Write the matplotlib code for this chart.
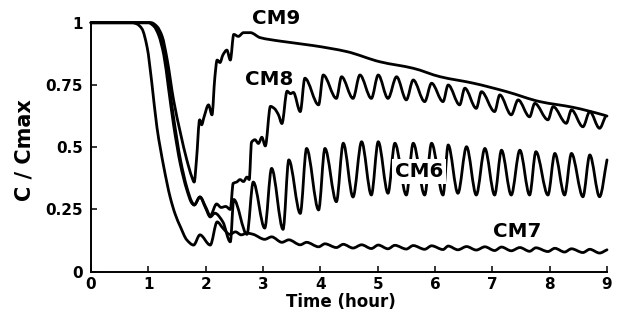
import matplotlib
matplotlib.use('Agg')
import matplotlib.pyplot as plt
from matplotlib.path import Path
from matplotlib.patches import PathPatch
import numpy as np

plt.rcParams['font.family'] = ['DejaVu Sans']
plt.rcParams['font.weight'] = 'bold'

# ---- data ----
cm9_t = [0.0, 1.05, 1.15, 1.24, 1.33, 1.44, 1.56, 1.67, 1.76, 1.80, 1.84, 1.895, 1.93, 1.97,
         2.05, 2.11, 2.16, 2.20, 2.25, 2.30, 2.37, 2.43, 2.49, 2.57, 2.66, 2.78, 2.95, 3.30,
         3.88, 4.46, 5.04, 5.62, 6.09, 6.67, 7.25, 7.83, 8.41, 8.93, 9.0]
cm9_c = [1.0, 1.0, 0.985, 0.946, 0.85, 0.69, 0.557, 0.45, 0.38, 0.36, 0.45, 0.61, 0.59, 0.62,
         0.67, 0.63, 0.78, 0.85, 0.84, 0.87, 0.89, 0.85, 0.953, 0.945, 0.96, 0.96, 0.94, 0.926,
         0.908, 0.884, 0.843, 0.817, 0.783, 0.757, 0.723, 0.683, 0.66, 0.63, 0.625]

cm8_t = [0.0, 1.02, 1.12, 1.20, 1.27, 1.35, 1.44, 1.56, 1.67, 1.76, 1.80, 1.90, 2.00, 2.08,
         2.19, 2.27, 2.35, 2.43, 2.48, 2.54, 2.60, 2.66, 2.72, 2.76, 2.80, 2.86, 2.92, 2.98,
         3.04, 3.13, 3.20, 3.27, 3.33, 3.42, 3.48, 3.53, 3.65, 3.73,
         3.97, 4.05, 4.28, 4.37, 4.57, 4.69, 4.89, 5.01, 5.18, 5.33, 5.50, 5.62, 5.82, 5.94,
         6.14, 6.23, 6.43, 6.52, 6.72, 6.81, 7.04, 7.13, 7.33, 7.45, 7.65, 7.74, 7.97, 8.06,
         8.29, 8.38, 8.58, 8.70, 8.87, 8.97]
cm8_c = [1.0, 1.0, 0.985, 0.95, 0.89, 0.77, 0.62, 0.45, 0.34, 0.28, 0.268, 0.30, 0.26, 0.225,
         0.272, 0.258, 0.262, 0.25, 0.355, 0.36, 0.37, 0.362, 0.38, 0.37, 0.52, 0.53, 0.515, 0.54,
         0.505, 0.664, 0.655, 0.63, 0.595, 0.725, 0.715, 0.72, 0.643, 0.777,
         0.67, 0.79, 0.696, 0.783, 0.696, 0.79, 0.696, 0.79, 0.696, 0.783, 0.69, 0.77, 0.683, 0.757,
         0.683, 0.75, 0.67, 0.737, 0.656, 0.723, 0.643, 0.71, 0.63, 0.69, 0.622, 0.676, 0.61, 0.663,
         0.596, 0.65, 0.582, 0.643, 0.576, 0.622]

cm6_t = [0.0, 1.00, 1.10, 1.18, 1.27, 1.35, 1.44, 1.56, 1.67, 1.76, 1.80, 1.90, 2.00, 2.08,
         2.16, 2.30, 2.43, 2.49, 2.72, 2.83, 3.03, 3.15, 3.35, 3.45, 3.65, 3.76, 3.97, 4.08,
         4.28, 4.40, 4.57, 4.72, 4.89, 5.01, 5.18, 5.30, 5.50, 5.62, 5.82, 5.94, 6.14, 6.23,
         6.40, 6.55, 6.72, 6.87, 7.04, 7.16, 7.33, 7.48, 7.65, 7.76, 7.97, 8.09, 8.26, 8.38,
         8.58, 8.70, 8.87, 9.0]
cm6_c = [1.0, 1.0, 0.985, 0.95, 0.87, 0.74, 0.59, 0.43, 0.33, 0.275, 0.268, 0.30, 0.255, 0.22,
         0.235, 0.20, 0.12, 0.29, 0.15, 0.36, 0.175, 0.415, 0.17, 0.449, 0.234, 0.495, 0.248, 0.495,
         0.281, 0.516, 0.30, 0.522, 0.308, 0.522, 0.315, 0.516, 0.308, 0.516, 0.308, 0.516, 0.308, 0.509,
         0.315, 0.502, 0.308, 0.495, 0.308, 0.488, 0.308, 0.488, 0.308, 0.482, 0.308, 0.475, 0.308, 0.475,
         0.301, 0.469, 0.301, 0.449]

cm7_t = [0.0, 0.72, 0.80, 0.89, 0.98, 1.06, 1.15, 1.27, 1.38, 1.47, 1.56, 1.67, 1.79, 1.90,
         2.08, 2.20, 2.30, 2.42, 2.52, 2.62, 2.72, 2.83, 3.03, 3.15, 3.33, 3.45, 3.65, 3.76,
         3.97, 4.08, 4.28, 4.40, 4.57, 4.72, 4.89, 5.01, 5.18, 5.30, 5.50, 5.62, 5.82, 5.94,
         6.14, 6.23, 6.40, 6.55, 6.72, 6.87, 7.04, 7.16, 7.33, 7.48, 7.65, 7.76, 7.97, 8.09,
         8.26, 8.38, 8.58, 8.70, 8.87, 9.0]
cm7_c = [1.0, 1.0, 0.995, 0.975, 0.90, 0.76, 0.58, 0.42, 0.30, 0.23, 0.18, 0.128, 0.107, 0.148,
         0.107, 0.20, 0.175, 0.15, 0.16, 0.148, 0.155, 0.150, 0.130, 0.140, 0.118, 0.128, 0.108, 0.118,
         0.100, 0.112, 0.097, 0.110, 0.095, 0.108, 0.093, 0.107, 0.092, 0.106, 0.091, 0.105, 0.090, 0.104,
         0.089, 0.103, 0.088, 0.101, 0.087, 0.100, 0.085, 0.099, 0.084, 0.097, 0.082, 0.096, 0.081, 0.094,
         0.079, 0.092, 0.077, 0.090, 0.075, 0.088]

x_ticks = [0, 1, 2, 3, 4, 5, 6, 7, 8, 9]
y_ticks = [0, 0.25, 0.5, 0.75, 1]
y_tick_labels = ['0', '0.25', '0.5', '0.75', '1']

labels = ['CM9', 'CM8', 'CM6', 'CM7']
label_x = [3.23, 3.11, 5.72, 7.44]
label_y = [1.017, 0.77, 0.404, 0.161]


def smooth_patch(t, c, **kw):
    """Monotone cubic Bezier path through the read points."""
    t = np.asarray(t, float)
    c = np.asarray(c, float)
    d = np.diff(c) / np.diff(t)
    m = np.zeros_like(c)
    m[0] = d[0]
    m[-1] = d[-1]
    for k in range(1, len(c) - 1):
        if d[k - 1] * d[k] <= 0:
            m[k] = 0.0
        else:
            m[k] = 2.0 / (1.0 / d[k - 1] + 1.0 / d[k])
    verts = [(t[0], c[0])]
    codes = [Path.MOVETO]
    for k in range(len(c) - 1):
        h = t[k + 1] - t[k]
        verts += [(t[k] + h / 3, c[k] + m[k] * h / 3),
                  (t[k + 1] - h / 3, c[k + 1] - m[k + 1] * h / 3),
                  (t[k + 1], c[k + 1])]
        codes += [Path.CURVE4] * 3
    return PathPatch(Path(verts, codes), fill=False, **kw)


fig = plt.figure(figsize=(6.17, 3.23), dpi=100)
ax = fig.add_axes([91 / 617, 1 - 271.7 / 323, (607 - 91) / 617, (271.7 - 22.7) / 323])
ax.set_xlim(0, 9)
ax.set_ylim(0, 1)

for t, c in [(cm9_t, cm9_c), (cm8_t, cm8_c), (cm6_t, cm6_c), (cm7_t, cm7_c)]:
    p = smooth_patch(t, c, edgecolor='black', linewidth=2.0, joinstyle='round',
                     capstyle='round', zorder=3)
    p.set_clip_on(False)
    ax.add_patch(p)

for s in ['top', 'right']:
    ax.spines[s].set_visible(False)
for s in ['left', 'bottom']:
    ax.spines[s].set_linewidth(1.4)

ax.set_xticks(x_ticks)
ax.set_xticklabels([str(v) for v in x_ticks])
ax.set_yticks(y_ticks)
ax.set_yticklabels(y_tick_labels)
ax.tick_params(direction='in', length=4, width=1.1, labelsize=11)
ax.tick_params(axis='x', pad=4)
ax.tick_params(axis='y', pad=6)
for lab in ax.get_xticklabels() + ax.get_yticklabels():
    lab.set_fontweight('bold')

for name, lx, ly in zip(labels, label_x, label_y):
    kw = {}
    if name == 'CM6':
        kw['bbox'] = dict(boxstyle='square,pad=0.15', fc='white', ec='none')
    ax.text(lx, ly, name, ha='center', va='center', fontsize=14.3,
            fontweight='bold', zorder=5, clip_on=False, **kw)

fig.text(25 / 617, 1 - 150 / 323, 'C / Cmax', rotation=90, ha='center', va='center',
         fontsize=15, fontweight='bold')
fig.text(341 / 617, 1 - 302 / 323, 'Time (hour)', ha='center', va='center',
         fontsize=12, fontweight='bold')

fig.savefig('out.png', dpi=100, facecolor='white')
